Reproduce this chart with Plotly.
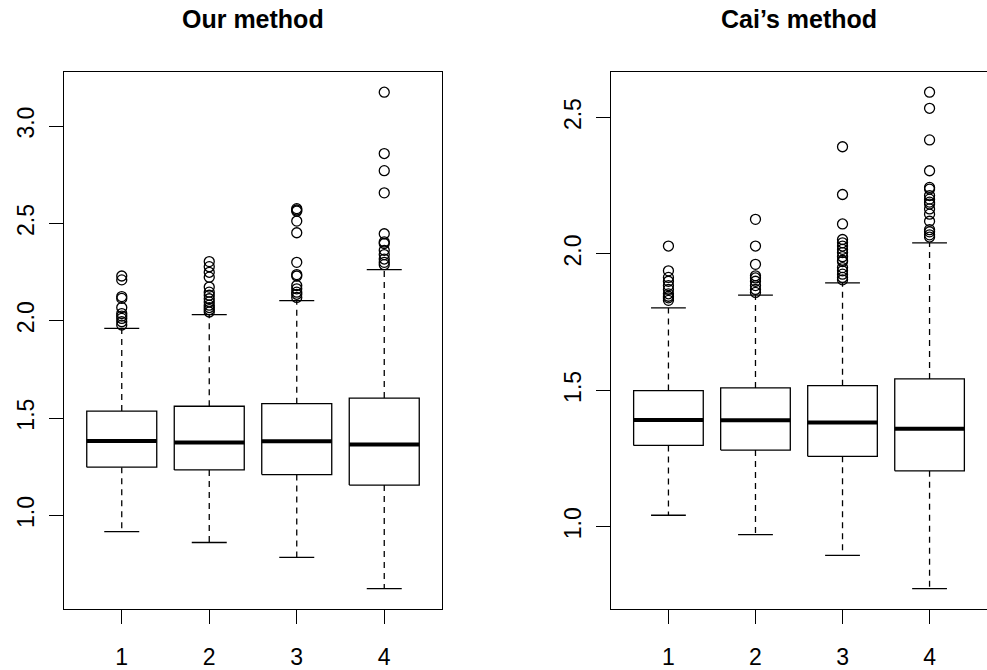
import plotly.graph_objects as go

# ---- data -------------------------------------------------------------
groups = [1, 2, 3, 4]
tick_labels = ["1", "2", "3", "4"]

ours_q1 = [1.248, 1.234, 1.210, 1.156]
ours_median = [1.383, 1.375, 1.381, 1.365]
ours_q3 = [1.536, 1.561, 1.574, 1.603]
ours_lower = [0.917, 0.861, 0.785, 0.624]
ours_upper = [1.961, 2.032, 2.103, 2.263]
ours_outliers = [
    [2.230, 2.210, 2.124, 2.115, 2.068, 2.037, 2.024, 2.012, 1.995, 1.978],
    [2.304, 2.278, 2.249, 2.224, 2.173, 2.147, 2.131, 2.113, 2.097, 2.080,
     2.068, 2.057, 2.045],
    [2.576, 2.569, 2.563, 2.512, 2.452, 2.300, 2.237, 2.230, 2.181, 2.164,
     2.147, 2.136, 2.120],
    [3.174, 2.859, 2.771, 2.657, 2.447, 2.405, 2.397, 2.362, 2.340, 2.317,
     2.300, 2.288],
]

cai_q1 = [1.298, 1.281, 1.258, 1.205]
cai_median = [1.391, 1.390, 1.382, 1.359]
cai_q3 = [1.499, 1.509, 1.517, 1.542]
cai_lower = [1.042, 0.971, 0.895, 0.773]
cai_upper = [1.802, 1.849, 1.894, 2.041]
cai_outliers = [
    [2.029, 1.938, 1.914, 1.900, 1.884, 1.870, 1.854, 1.845, 1.839, 1.830],
    [2.127, 2.029, 1.962, 1.920, 1.912, 1.900, 1.884, 1.870, 1.859],
    [2.393, 2.218, 2.110, 2.053, 2.041, 2.029, 2.017, 2.005, 1.990, 1.977,
     1.972, 1.950, 1.938, 1.926, 1.914, 1.905],
    [2.593, 2.534, 2.418, 2.305, 2.244, 2.238, 2.214, 2.201, 2.190, 2.183,
     2.165, 2.146, 2.120, 2.089, 2.081, 2.070, 2.062],
]

ours_yticks = [1.0, 1.5, 2.0, 2.5, 3.0]
cai_yticks = [1.0, 1.5, 2.0, 2.5]
titles = ["Our method", "Cai\u2019s method"]

# ---- style ------------------------------------------------------------
FONT = "Liberation Sans, Arial, Helvetica, sans-serif"
BOXWEX = 0.8
STAPLE = 0.4
LW = 1.3


def panel_traces(q1, med, q3, lo, hi, outl, xa, ya):
    bx, by, mx, my, wx, wy, sx, sy, ox, oy = ([] for _ in range(10))
    for i, g in enumerate(groups):
        l, r = g - BOXWEX / 2, g + BOXWEX / 2
        bx += [l, r, r, l, l, None]
        by += [q1[i], q1[i], q3[i], q3[i], q1[i], None]
        mx += [l, r, None]
        my += [med[i], med[i], None]
        wx += [g, g, None, g, g, None]
        wy += [q3[i], hi[i], None, q1[i], lo[i], None]
        sl, sr = g - STAPLE / 2, g + STAPLE / 2
        sx += [sl, sr, None, sl, sr, None]
        sy += [hi[i], hi[i], None, lo[i], lo[i], None]
        ox += [g] * len(outl[i])
        oy += outl[i]
    common = dict(xaxis=xa, yaxis=ya, showlegend=False, hoverinfo="skip")
    return [
        go.Scatter(x=wx, y=wy, mode="lines",
                   line=dict(color="black", width=LW, dash="6px,5px"), **common),
        go.Scatter(x=sx, y=sy, mode="lines",
                   line=dict(color="black", width=LW), **common),
        go.Scatter(x=bx, y=by, mode="lines", fill="toself", fillcolor="white",
                   line=dict(color="black", width=LW), **common),
        go.Scatter(x=mx, y=my, mode="lines",
                   line=dict(color="black", width=4), **common),
        go.Scatter(x=ox, y=oy, mode="markers",
                   marker=dict(symbol="circle-open", size=10, color="black",
                               line=dict(width=1.3)), **common),
    ]


def padded_range(*arrays):
    vals = [v for a in arrays for v in (a if not isinstance(a[0], list)
                                        else [x for s in a for x in s])]
    lo, hi = min(vals), max(vals)
    pad = 0.04 * (hi - lo)
    return [lo - pad, hi + pad]


fig = go.Figure()
for t in panel_traces(ours_q1, ours_median, ours_q3, ours_lower, ours_upper,
                      ours_outliers, "x", "y"):
    fig.add_trace(t)
for t in panel_traces(cai_q1, cai_median, cai_q3, cai_lower, cai_upper,
                      cai_outliers, "x2", "y2"):
    fig.add_trace(t)

xpad = 0.04 * (len(groups))
xrange = [0.5 - xpad, len(groups) + 0.5 + xpad]

W, H = 987, 670
dom_y = [1 - 614 / H, 1 - 73 / H]
dom_x1 = [64 / W, 442 / W]
dom_x2 = [611 / W, 1.0]

axis_common = dict(showgrid=False, zeroline=False, showline=True,
                   linecolor="black", linewidth=LW, ticks="outside",
                   ticklen=14, tickwidth=LW, tickcolor="black",
                   tickfont=dict(family=FONT, size=23, color="black"))

xaxis_kw = dict(range=xrange, tickvals=groups, ticktext=tick_labels,
                ticklabelstandoff=14, mirror=True, **axis_common)

fig.update_layout(
    width=W, height=H,
    margin=dict(l=0, r=0, t=0, b=0),
    paper_bgcolor="white", plot_bgcolor="white",
    xaxis=dict(domain=dom_x1, anchor="y", **xaxis_kw),
    xaxis2=dict(domain=dom_x2, anchor="y2", **xaxis_kw),
    yaxis=dict(domain=dom_y, anchor="x",
               range=padded_range(ours_lower, ours_upper, ours_outliers),
               tickvals=ours_yticks, ticktext=[f"{v:.1f}" for v in ours_yticks],
               tickangle=-90, ticklabelstandoff=6, mirror=True, **axis_common),
    yaxis2=dict(domain=dom_y, anchor="x2",
                range=padded_range(cai_lower, cai_upper, cai_outliers),
                tickvals=cai_yticks, ticktext=[f"{v:.1f}" for v in cai_yticks],
                tickangle=-90, ticklabelstandoff=6, mirror=False, **axis_common),
    annotations=[
        dict(text=f"<b>{titles[0]}</b>", xref="x domain", yref="paper",
             x=0.5, y=1 - 19 / H, yanchor="middle", showarrow=False,
             font=dict(family=FONT, size=25, color="black")),
        dict(text=f"<b>{titles[1]}</b>", xref="x2 domain", yref="paper",
             x=0.5, y=1 - 19 / H, yanchor="middle", showarrow=False,
             font=dict(family=FONT, size=25, color="black")),
    ],
)

fig.write_html("out.html")
